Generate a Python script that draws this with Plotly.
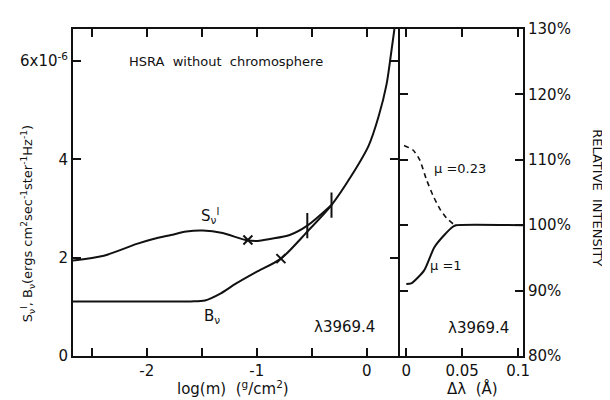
import plotly.graph_objects as go

# ---- data ----
logm_sv = [-2.67, -2.39, -2.09, -1.94, -1.78, -1.64, -1.49, -1.31, -1.10, -0.99, -0.88, -0.70, -0.54, -0.32]
sv_vals = [1.94, 2.04, 2.28, 2.38, 2.46, 2.53, 2.55, 2.50, 2.36, 2.34, 2.38, 2.46, 2.65, 3.07]

logm_bv = [-2.67, -2.0, -1.6, -1.47, -1.33, -1.19, -1.01, -0.78, -0.54, -0.32, -0.135, 0.018, 0.108, 0.18, 0.216, 0.252]
bv_vals = [1.11, 1.11, 1.11, 1.13, 1.27, 1.47, 1.70, 1.98, 2.53, 3.07, 3.68, 4.28, 4.87, 5.52, 6.06, 6.65]

cross_logm = [-1.08, -0.78]
cross_vals = [2.36, 1.98]
bar_logm = [-0.54, -0.32]
bar_vals = [2.65, 3.07]

dl_mu1 = [0.0, 0.0044, 0.016, 0.025, 0.034, 0.042, 0.0445, 0.1044]
int_mu1 = [91.0, 91.1, 93.1, 96.6, 98.5, 99.8, 100.0, 100.0]

dl_mu023 = [-0.002, 0.006, 0.012, 0.018, 0.024, 0.030, 0.036, 0.042, 0.0445]
int_mu023 = [112.2, 111.5, 110.0, 107.0, 104.5, 102.5, 101.1, 100.2, 100.0]

left_yticks = [0, 2, 4, 6]
left_ytext = ["0", "2", "4", "6x10<sup>-6</sup>"]
left_xticks = [-2.5, -2, -1.5, -1, -0.5, 0]
left_xtext = ["", "-2", "", "-1", "", "0"]
right_xticks = [0, 0.05, 0.1]
right_xtext = ["0", "0.05", "0.1"]
right_yticks = [80, 90, 100, 110, 120, 130]
right_ytext = ["80%", "90%", "100%", "110%", "120%", "130%"]

FONT = "DejaVu Sans"
BLACK = "#111111"

fig = go.Figure()
fig.add_trace(go.Scatter(x=logm_bv, y=bv_vals, mode="lines", line=dict(color=BLACK, width=2, shape="spline", smoothing=0.8),
                         xaxis="x", yaxis="y", showlegend=False))
fig.add_trace(go.Scatter(x=logm_sv, y=sv_vals, mode="lines", line=dict(color=BLACK, width=2, shape="spline", smoothing=0.8),
                         xaxis="x", yaxis="y", showlegend=False))
fig.add_trace(go.Scatter(x=cross_logm, y=cross_vals, mode="markers",
                         marker=dict(symbol="x-thin", size=9, line=dict(color=BLACK, width=2)),
                         xaxis="x", yaxis="y", showlegend=False))
fig.add_trace(go.Scatter(x=bar_logm, y=bar_vals, mode="markers",
                         marker=dict(symbol="line-ns", size=18, line=dict(color=BLACK, width=2)),
                         xaxis="x", yaxis="y", showlegend=False))
fig.add_trace(go.Scatter(x=dl_mu1, y=int_mu1, mode="lines", line=dict(color=BLACK, width=2, shape="spline", smoothing=0.6),
                         xaxis="x2", yaxis="y2", showlegend=False))
fig.add_trace(go.Scatter(x=dl_mu023, y=int_mu023, mode="lines",
                         line=dict(color=BLACK, width=1.6, dash="5px,4px", shape="spline", smoothing=0.6),
                         xaxis="x2", yaxis="y2", showlegend=False))

PLOT_W = 455
left_end = (397 - 68) / PLOT_W
right_start = (399 - 68) / PLOT_W
axis_common = dict(showline=True, linecolor=BLACK, linewidth=2, ticks="inside", ticklen=8, tickwidth=2,
                   tickcolor=BLACK, mirror="ticks", showgrid=False, zeroline=False,
                   tickfont=dict(family=FONT, size=15, color=BLACK))

# page has an 8px body margin, so the figure is 602x392 and sits at (8, 8)
fig.update_layout(
    width=602, height=392,
    margin=dict(l=60, r=87, t=12, b=44, pad=0),
    paper_bgcolor="white", plot_bgcolor="white",
    font=dict(family=FONT, color=BLACK),
    xaxis=dict(domain=[0, left_end], range=[-2.67, 0.288], tickvals=left_xticks, ticktext=left_xtext, **axis_common),
    yaxis=dict(range=[0, 6.65], tickvals=left_yticks, ticktext=left_ytext, **axis_common),
    xaxis2=dict(domain=[right_start, 1], range=[-0.0053, 0.1044], anchor="y2", tickvals=right_xticks,
                ticktext=right_xtext, **axis_common),
    yaxis2=dict(range=[80, 130], anchor="x2", side="right", tickvals=right_yticks, ticktext=right_ytext,
                **axis_common),
)

def note(x, y, text, size=14, angle=0):
    fig.add_annotation(x=x, y=y, xref="paper", yref="paper", text=text, showarrow=False, textangle=angle,
                       xanchor="center", yanchor="middle", font=dict(family=FONT, size=size, color=BLACK))

# page-pixel helpers -> paper coordinates (plot area spans page x 68..523, y 20..356)
def px(xp):
    return (xp - 68) / PLOT_W
def py(yp):
    return (356 - yp) / 336

note(px(223), py(53), "HSRA  without  chromosphere", size=13)
note(px(207), py(212), "S<sub>ν</sub><sup>l</sup>", size=15)
note(px(209), py(315), "B<sub>ν</sub>", size=15)
note(px(343), py(326), "λ3969.4", size=15)
note(px(478), py(327), "λ3969.4", size=15)
note(px(459), py(163), "μ =0.23", size=13)
note(px(445), py(263), "μ =1", size=13)
note(px(230), py(389), "log(m)  (<sup>g</sup>/cm<sup>2</sup>)", size=15)
note(px(472), py(389), "Δλ  (Å)", size=15)
note(px(22), py(220), "S<sub>ν</sub><sup>l</sup>, B<sub>ν</sub>(ergs cm<sup>2</sup>sec<sup>-1</sup>ster<sup>-1</sup>Hz<sup>-1</sup>)",
     size=13, angle=-90)
note(px(598), py(193), "RELATIVE  INTENSITY", size=13, angle=90)

fig.write_html("out.html")
